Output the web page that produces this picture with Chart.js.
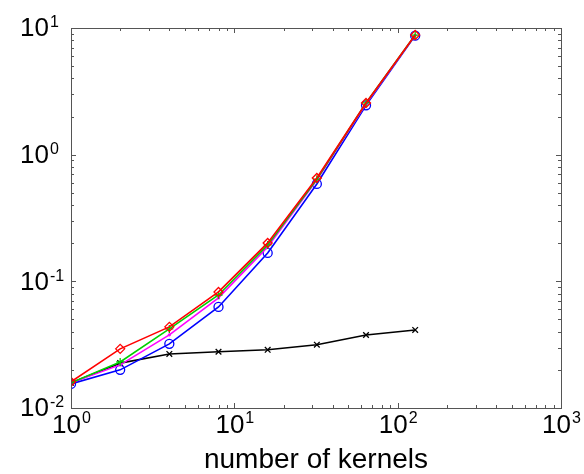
<!DOCTYPE html>
<html>
<head>
<meta charset="utf-8">
<script src="https://cdn.jsdelivr.net/npm/chart.js@4"></script>
<style>
  html, body { margin: 0; padding: 0; background: #fff; }
  #wrap { width: 584px; height: 474px; }
</style>
</head>
<body>
<div id="wrap"><canvas id="grafico"></canvas></div>
<script>
/* ================= DADOS ================= */
const kernels = [1, 2, 4, 8, 16, 32, 64, 128];

const redVals     = [0.0161, 0.0293, 0.0437, 0.0825, 0.201, 0.655, 2.56, 8.8];
const greenVals   = [0.0158, 0.0231, 0.0421, 0.078, 0.194, 0.64, 2.56, 8.8];
const magentaVals = [0.0158, 0.0219, 0.0378, 0.074, 0.187, 0.63, 2.52, 8.75];
const blueVals    = [0.0155, 0.0200, 0.0321, 0.0628, 0.1675, 0.587, 2.45, 8.7];
const blackVals   = [0.0158, 0.0226, 0.0267, 0.0278, 0.0288, 0.0316, 0.0377, 0.0413];

const xPowers = [0, 1, 2, 3];
const yPowers = [-2, -1, 0, 1];
const xTitle = "number of kernels";

/* ================= AUXILIARES ================= */
function pontos(vals) {
  return kernels.map((k, i) => ({ x: k, y: vals[i] }));
}

function serie(vals, cor, estilo, raio) {
  return {
    data: pontos(vals),
    borderColor: cor,
    backgroundColor: "rgba(0,0,0,0)",
    borderWidth: 1.6,
    pointStyle: estilo,
    pointRadius: raio,
    pointBorderColor: cor,
    pointBorderWidth: 1.3,
    pointBackgroundColor: "rgba(0,0,0,0)",
    tension: 0
  };
}

/* ================= EIXOS (caixa, ticks, rotulos 10^n) ================= */
const eixosMatlab = {
  id: "eixosMatlab",
  afterDraw(chart) {
    const { ctx, chartArea: a, scales: { x, y } } = chart;
    ctx.save();
    ctx.strokeStyle = "#555";
    ctx.lineWidth = 1;
    ctx.strokeRect(Math.round(a.left) + 0.5, Math.round(a.top) + 0.5,
      Math.round(a.right - a.left), Math.round(a.bottom - a.top));

    ctx.beginPath();
    for (let p = xPowers[0]; p < xPowers[xPowers.length - 1]; p++) {
      for (let m = 1; m <= 10; m++) {
        const px = Math.round(x.getPixelForValue(m * Math.pow(10, p))) + 0.5;
        const len = (m === 1 || m === 10) ? 5 : 3;
        ctx.moveTo(px, a.bottom); ctx.lineTo(px, a.bottom - len);
        ctx.moveTo(px, a.top); ctx.lineTo(px, a.top + len);
      }
    }
    for (let p = yPowers[0]; p < yPowers[yPowers.length - 1]; p++) {
      for (let m = 1; m <= 10; m++) {
        const py = Math.round(y.getPixelForValue(m * Math.pow(10, p))) + 0.5;
        const len = (m === 1 || m === 10) ? 5 : 3;
        ctx.moveTo(a.left, py); ctx.lineTo(a.left + len, py);
        ctx.moveTo(a.right, py); ctx.lineTo(a.right - len, py);
      }
    }
    ctx.stroke();

    const base = "26px 'Liberation Sans', Arial, sans-serif";
    const expo = "16px 'Liberation Sans', Arial, sans-serif";
    ctx.fillStyle = "#000";
    ctx.textBaseline = "middle";

    yPowers.forEach(p => {
      const py = y.getPixelForValue(Math.pow(10, p));
      ctx.font = base;
      ctx.textAlign = "right";
      ctx.fillText("10", 49, py + 1);
      ctx.font = expo;
      ctx.textAlign = "left";
      ctx.fillText(String(p), 50, py - 5);
    });

    xPowers.forEach(p => {
      const px = x.getPixelForValue(Math.pow(10, p));
      ctx.font = base;
      const w1 = ctx.measureText("10").width;
      ctx.font = expo;
      const w2 = ctx.measureText(String(p)).width;
      const esq = px - (w1 + w2) / 2;
      ctx.font = base;
      ctx.textAlign = "left";
      ctx.fillText("10", esq, a.bottom + 18);
      ctx.font = expo;
      ctx.fillText(String(p), esq + w1 + 1, a.bottom + 11);
    });
    ctx.restore();
  }
};

/* ================= GRAFICO ================= */
new Chart(document.getElementById("grafico"), {
  type: "line",
  data: {
    datasets: [
      serie(redVals, "#ff0000", "rectRot", 4.5),
      serie(greenVals, "#00d000", "cross", 4),
      serie(magentaVals, "#ff00ff", "circle", 1),
      serie(blueVals, "#0000ff", "circle", 4.5),
      serie(blackVals, "#000000", "crossRot", 4)
    ]
  },
  options: {
    responsive: true,
    maintainAspectRatio: false,
    animation: false,
    layout: { padding: { left: 71, top: 28, right: 23, bottom: 0 } },
    plugins: { legend: { display: false }, tooltip: { enabled: false } },
    scales: {
      x: {
        type: "logarithmic",
        min: 1,
        max: 1000,
        grid: { display: false, drawTicks: false },
        border: { display: false },
        ticks: { display: false },
        title: {
          display: true,
          text: xTitle,
          color: "#000",
          font: { family: "'Liberation Sans', Arial, sans-serif", size: 28, lineHeight: 1 },
          padding: { top: 38, bottom: 0 }
        }
      },
      y: {
        type: "logarithmic",
        min: 0.01,
        max: 10,
        grid: { display: false, drawTicks: false },
        border: { display: false },
        ticks: { display: false }
      }
    }
  },
  plugins: [eixosMatlab]
});
</script>
</body>
</html>
